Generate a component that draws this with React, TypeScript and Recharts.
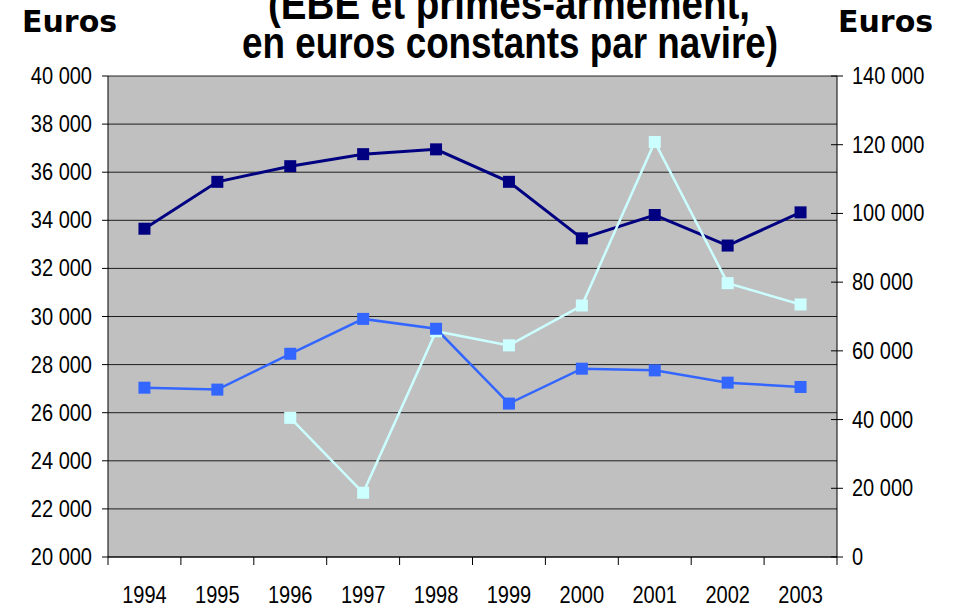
import { CartesianGrid, Line, LineChart, XAxis, YAxis } from "recharts";

const years = ["1994", "1995", "1996", "1997", "1998", "1999", "2000", "2001", "2002", "2003"];
// left axis
const darkSeries = [33650, 35600, 36250, 36750, 36950, 35600, 33250, 34220, 32950, 34330];
const blueSeries = [27040, 26960, 28450, 29900, 29490, 26380, 27830, 27760, 27250, 27070];
// right axis
const lightSeries = [null, null, 40500, 18700, 65700, 61600, 73200, 120800, 79700, 73500];

const leftTicks = [20000, 22000, 24000, 26000, 28000, 30000, 32000, 34000, 36000, 38000, 40000];
const rightTicks = [0, 20000, 40000, 60000, 80000, 100000, 120000, 140000];

const data = years.map((year, i) => ({
  year,
  dark: darkSeries[i],
  blue: blueSeries[i],
  light: lightSeries[i],
}));

const W = 956;
const H = 607;
const LEFT_W = 108;
const RIGHT_W = 119;
const BAND = (W - LEFT_W - RIGHT_W) / years.length;
const FONT = "'Liberation Sans', Arial, sans-serif";
const SQUEEZE = 0.87; // the original labels use a narrow face

const fmt = (v: number) => String(v).replace(/\B(?=(\d{3})+(?!\d))/g, " ");

function square(color: string) {
  return (props: any) => {
    const { cx, cy, index } = props;
    if (cx == null || cy == null || props.value == null) return <g key={index} />;
    return <rect key={index} x={cx - 6} y={cy - 6} width={12} height={12} fill={color} />;
  };
}

function Label({ x, y, anchor, children }: any) {
  return (
    <text
      transform={`translate(${x},${y}) scale(${SQUEEZE},1)`}
      textAnchor={anchor}
      fontFamily={FONT}
      fontSize={23}
      fill="#000"
    >
      {children}
    </text>
  );
}

function LeftTick({ x, y, payload }: any) {
  return (
    <g>
      <line x1={x - 6} x2={x} y1={y} y2={y} stroke="#000" />
      <Label x={x - 16} y={y + 8} anchor="end">
        {fmt(payload.value)}
      </Label>
    </g>
  );
}

function RightTick({ x, y, payload }: any) {
  return (
    <g>
      <line x1={x - 6} x2={x + 6} y1={y} y2={y} stroke="#000" />
      <Label x={x + 15} y={y + 8} anchor="start">
        {fmt(payload.value)}
      </Label>
    </g>
  );
}

function YearTick({ x, y, payload, index }: any) {
  const left = x - BAND / 2;
  return (
    <g>
      <line x1={left} x2={left} y1={y} y2={y + 8} stroke="#000" />
      {index === years.length - 1 && (
        <line x1={x + BAND / 2} x2={x + BAND / 2} y1={y} y2={y + 8} stroke="#000" />
      )}
      <Label x={x} y={y + 46} anchor="middle">
        {payload.value}
      </Label>
    </g>
  );
}

export default function App() {
  return (
    <div style={{ position: "absolute", left: 0, top: 0, width: W, height: H, background: "#fff" }}>
      <LineChart width={W} height={H} data={data} margin={{ top: 76, right: 0, bottom: 0, left: 0 }}>
        <CartesianGrid vertical={false} fill="#C0C0C0" fillOpacity={1} stroke="#000" strokeOpacity={0.85} />
        <XAxis
          dataKey="year"
          height={50}
          padding={{ left: BAND / 2, right: BAND / 2 }}
          tickSize={0}
          tickMargin={0}
          interval={0}
          stroke="#000"
          tick={<YearTick />}
        />
        <YAxis
          width={LEFT_W}
          domain={[20000, 40000]}
          ticks={leftTicks}
          interval={0}
          tickSize={0}
          tickMargin={0}
          stroke="#000"
          tick={<LeftTick />}
        />
        <YAxis
          yAxisId="right"
          orientation="right"
          width={RIGHT_W}
          domain={[0, 140000]}
          ticks={rightTicks}
          interval={0}
          tickSize={0}
          tickMargin={0}
          stroke="#000"
          tick={<RightTick />}
        />
        <Line
          dataKey="dark"
          stroke="#000080"
          strokeWidth={3}
          dot={square("#000080")}
          activeDot={false}
          isAnimationActive={false}
        />
        <Line
          dataKey="light"
          yAxisId="right"
          stroke="#CCFFFF"
          strokeWidth={2.5}
          dot={square("#CCFFFF")}
          activeDot={false}
          isAnimationActive={false}
        />
        <Line
          dataKey="blue"
          stroke="#3366FF"
          strokeWidth={2.5}
          dot={square("#3366FF")}
          activeDot={false}
          isAnimationActive={false}
        />
      </LineChart>
      <svg width={W} height={80} style={{ position: "absolute", left: 0, top: 0, pointerEvents: "none" }}>
        <text
          x={509}
          y={19}
          textAnchor="middle"
          fontFamily={FONT}
          fontWeight="bold"
          fontSize={44}
          textLength={482}
          lengthAdjust="spacingAndGlyphs"
        >
          (EBE et primes-armement,
        </text>
        <text
          x={510}
          y={58}
          textAnchor="middle"
          fontFamily={FONT}
          fontWeight="bold"
          fontSize={44}
          textLength={536}
          lengthAdjust="spacingAndGlyphs"
        >
          en euros constants par navire)
        </text>
        <text x={22} y={32} fontFamily="'DejaVu Sans', Verdana, sans-serif" fontWeight="bold" fontSize={30}>
          Euros
        </text>
        <text x={838} y={32} fontFamily="'DejaVu Sans', Verdana, sans-serif" fontWeight="bold" fontSize={30}>
          Euros
        </text>
      </svg>
    </div>
  );
}
